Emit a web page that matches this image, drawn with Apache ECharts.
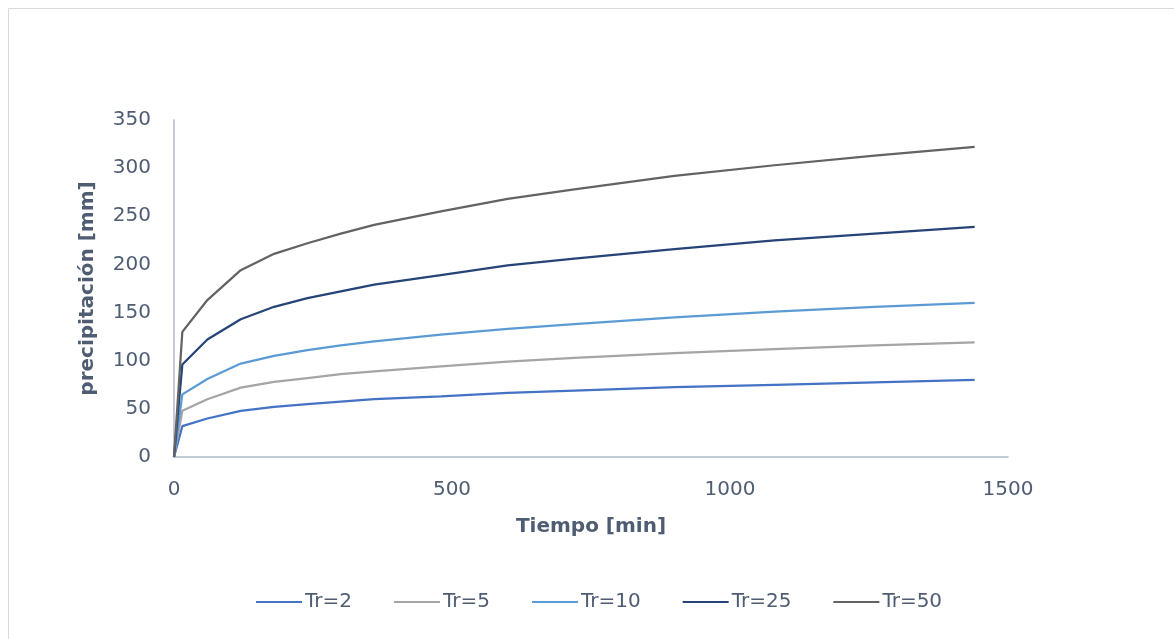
<!DOCTYPE html>
<html>
<head>
<meta charset="utf-8">
<style>
  html, body { margin: 0; padding: 0; background: #ffffff; }
  #chart { width: 1174px; height: 639px; }
</style>
<script src="https://cdn.jsdelivr.net/npm/echarts@6/dist/echarts.min.js"></script>
</head>
<body>
<div id="chart"></div>
<script>
// Duración de la lluvia [min]
const duraciones = [0, 15, 60, 120, 180, 240, 300, 360, 480, 600, 720, 900, 1080, 1260, 1440];

// Precipitación [mm] por período de retorno
const serieTr2  = [0, 32, 40, 48, 52, 55, 57.5, 60, 63, 66.5, 69, 72.5, 75, 77.5, 80];
const serieTr5  = [0, 48, 60, 72, 78, 82, 86, 89, 94, 99, 103, 108, 112, 116, 119];
const serieTr10 = [0, 65, 81, 97, 105, 111, 116, 120, 127, 133, 138, 145, 151, 156, 160];
const serieTr25 = [0, 96, 122, 143, 156, 165, 172, 179, 189, 199, 206, 216, 225, 232, 239];
const serieTr50 = [0, 130, 163, 194, 211, 222, 232, 241, 255, 268, 278, 292, 303, 313, 322];

const nombres = ['Tr=2', 'Tr=5', 'Tr=10', 'Tr=25', 'Tr=50'];
const colores = ['#4472C4', '#A5A5A5', '#5B9BD5', '#264478', '#636363'];
const valores = [serieTr2, serieTr5, serieTr10, serieTr25, serieTr50];

const fuente = 'DejaVu Sans';
const colorTexto = '#4F5D73';
const colorEje = '#AEB9CC';

const chart = echarts.init(document.getElementById('chart'), null, { renderer: 'canvas' });

chart.setOption({
  animation: false,
  backgroundColor: '#ffffff',
  graphic: [{
    type: 'rect',
    shape: { x: 8.5, y: 8.5, width: 1300, height: 800 },
    style: { fill: 'none', stroke: '#D9D9D9', lineWidth: 1 },
    silent: true,
    z: -1
  }],
  grid: { left: 174, right: 166, top: 120, bottom: 182, containLabel: false },
  xAxis: {
    type: 'value',
    min: 0, max: 1500, interval: 500,
    name: 'Tiempo [min]',
    nameLocation: 'middle',
    nameGap: 60,
    nameTextStyle: { fontFamily: fuente, fontSize: 20, fontWeight: 'bold', color: colorTexto },
    axisLine: { show: true, lineStyle: { color: colorEje, width: 1.5 } },
    axisTick: { show: false },
    splitLine: { show: false },
    axisLabel: {
      fontFamily: fuente, fontSize: 20, color: colorTexto, margin: 23,
      formatter: v => String(v)
    }
  },
  yAxis: {
    type: 'value',
    min: 0, max: 350, interval: 50,
    name: 'precipitación [mm]',
    nameLocation: 'middle',
    nameGap: 76,
    nameRotate: 90,
    nameTextStyle: { fontFamily: fuente, fontSize: 20, fontWeight: 'bold', color: colorTexto },
    axisLine: { show: true, lineStyle: { color: colorEje, width: 1.5 } },
    axisTick: { show: false },
    splitLine: { show: false },
    axisLabel: { fontFamily: fuente, fontSize: 20, color: colorTexto, margin: 23 }
  },
  legend: {
    bottom: 22,
    left: 251,
    icon: 'rect',
    itemWidth: 46,
    itemHeight: 2,
    itemGap: 42,
    textStyle: { fontFamily: fuente, fontSize: 20, color: colorTexto, padding: [0, 0, 0, -2] },
    data: nombres
  },
  series: nombres.map((nombre, i) => ({
    name: nombre,
    type: 'line',
    showSymbol: false,
    smooth: false,
    color: colores[i],
    lineStyle: { color: colores[i], width: 2.25 },
    data: duraciones.map((t, k) => [t, valores[i][k]])
  }))
});
</script>
</body>
</html>
